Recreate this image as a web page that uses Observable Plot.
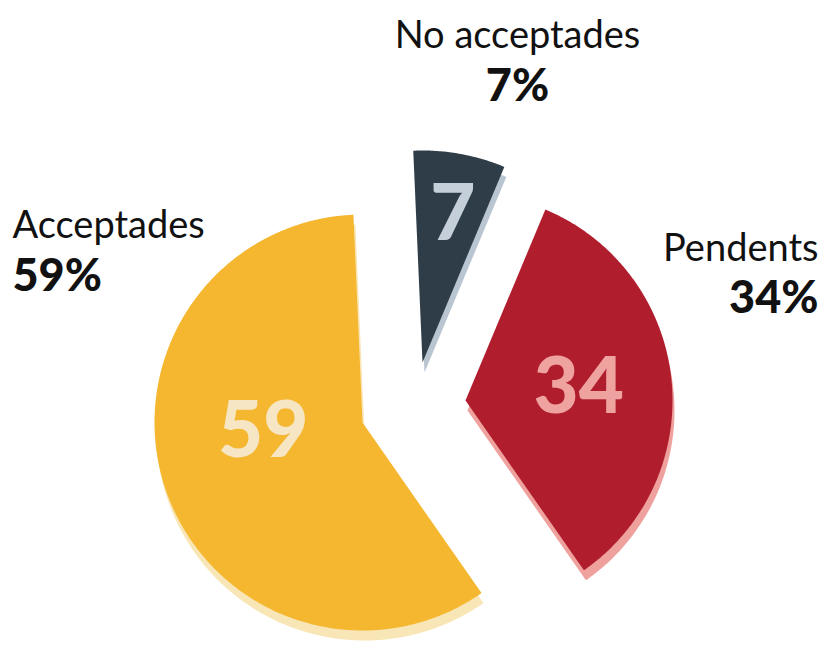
<!DOCTYPE html>
<html>
<head>
<meta charset="utf-8">
<script src="https://cdn.jsdelivr.net/npm/d3@7"></script>
<script src="https://cdn.jsdelivr.net/npm/@observablehq/plot@0.6"></script>
<style>
  html, body { margin: 0; padding: 0; background: #ffffff; }
</style>
</head>
<body>
<div id="chart"></div>
<script>
// ---- data ----
const categories = ["No acceptades", "Pendents", "Acceptades"];
const values = [7, 34, 59];
const valueLabels = ["7", "34", "59"];
const percentLabels = ["7%", "34%", "59%"];

// ---- layout & style (not data) ----
const W = 822, H = 646;
const center = {x: 362, y: 422};
const rotation = -2.5 * Math.PI / 180;
const shadowOffset = {dx: 2, dy: 10};
const sliceStyle = {
  "No acceptades": {fill: "#2e3d48", shadow: "#b9c5d0", num: "#c4cfd9", explode: [60, -60], r: 212, labelFrac: 0.71, labelTurn: 1.5},
  "Pendents":      {fill: "#b01e2e", shadow: "#efa19e", num: "#efa3a0", explode: [103, -22], r: 207, labelFrac: 0.55, labelTurn: 0},
  "Acceptades":    {fill: "#f4b72f", shadow: "#f9e6b6", num: "#f6e6c3", explode: [0, 0], r: 208, labelFrac: 0.48, labelTurn: 13}
};
const outerLabels = {
  "No acceptades": {x: 517, y: 47, gap: 53, anchor: "middle"},
  "Pendents":      {x: 818, y: 260, gap: 52, anchor: "end"},
  "Acceptades":    {x: 12, y: 237, gap: 53, anchor: "start"}
};

// ---- geometry from values ----
const arcs = d3.pie().sort(null).startAngle(rotation).endAngle(rotation + 2 * Math.PI)(values);

const slicePoints = [];
const shadowPoints = [];
const numberLabels = [];
arcs.forEach((a, i) => {
  const cat = categories[i];
  const s = sliceStyle[cat];
  const ax = center.x + s.explode[0];
  const ay = center.y + s.explode[1];
  const pts = [[ax, ay]];
  const n = Math.max(8, Math.ceil((a.endAngle - a.startAngle) / (Math.PI / 360)));
  for (let k = 0; k <= n; k++) {
    const t = a.startAngle + (a.endAngle - a.startAngle) * k / n;
    pts.push([ax + s.r * Math.sin(t), ay - s.r * Math.cos(t)]);
  }
  pts.forEach(([x, y], j) => {
    slicePoints.push({key: cat, x, y, color: s.fill, order: j});
    shadowPoints.push({key: cat, x: x + shadowOffset.dx, y: y + shadowOffset.dy, color: s.shadow, order: j});
  });
  const mid = (a.startAngle + a.endAngle) / 2 + s.labelTurn * Math.PI / 180;
  numberLabels.push({
    text: valueLabels[i],
    x: ax + s.labelFrac * s.r * Math.sin(mid),
    y: ay - s.labelFrac * s.r * Math.cos(mid),
    color: s.num
  });
});

const nameLabels = categories.map(c => ({text: c, ...outerLabels[c]}));
const pctLabels = categories.map((c, i) => ({text: percentLabels[i], x: outerLabels[c].x, y: outerLabels[c].y + outerLabels[c].gap, anchor: outerLabels[c].anchor}));

const font = "Lato, 'Open Sans', sans-serif";

const chart = Plot.plot({
  width: W,
  height: H,
  margin: 0,
  x: {domain: [0, W], range: [0, W], axis: null},
  y: {domain: [0, H], range: [0, H], axis: null},
  color: {type: "identity"},
  style: {background: "#ffffff", fontFamily: font},
  marks: [
    Plot.line(shadowPoints, {x: "x", y: "y", z: "key", fill: "color", stroke: "none"}),
    Plot.line(slicePoints, {x: "x", y: "y", z: "key", fill: "color", stroke: "none"}),
    Plot.text(numberLabels, {x: "x", y: "y", text: "text", fill: "color", fontSize: 78, fontWeight: 900, fontFamily: font, textAnchor: "middle", lineAnchor: "middle"}),
    ...["start", "middle", "end"].map(anc => Plot.text(nameLabels.filter(d => d.anchor === anc), {x: "x", y: "y", text: "text", fill: "#111111", fontSize: 38, fontWeight: 400, fontFamily: font, textAnchor: anc, lineAnchor: "bottom"})),
    ...["start", "middle", "end"].map(anc => Plot.text(pctLabels.filter(d => d.anchor === anc), {x: "x", y: "y", text: "text", fill: "#111111", fontSize: 45, fontWeight: 900, fontFamily: font, textAnchor: anc, lineAnchor: "bottom"}))
  ]
});

document.getElementById("chart").appendChild(chart);
</script>
</body>
</html>
